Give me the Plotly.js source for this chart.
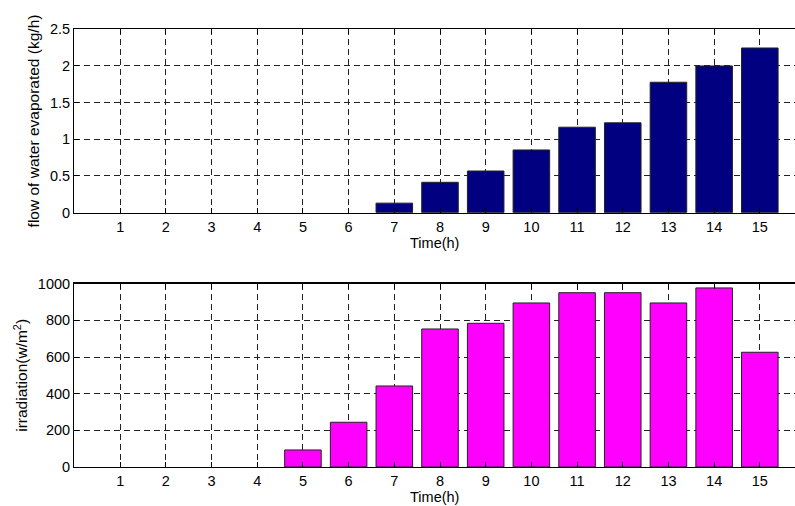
<!DOCTYPE html>
<html>
<head>
<meta charset="utf-8">
<script src="https://cdn.plot.ly/plotly-3.0.1.min.js"></script>
<style>html,body{margin:0;padding:0;background:#fff;}</style>
</head>
<body>
<div id="chart" style="width:795px;height:506px;"></div>
<script>
var hours = [1,2,3,4,5,6,7,8,9,10,11,12,13,14,15];
var waterFlow = [0,0,0,0,0,0,0.13,0.414,0.568,0.855,1.165,1.225,1.778,2.0,2.245];
var irradiation = [0,0,0,0,93,244,442,753,784,895,951,951,895,977,626];
var flowTicks = [0,0.5,1,1.5,2,2.5];
var flowTickText = ["0","0.5","1","1.5","2","2.5"];
var irrTicks = [0,200,400,600,800,1000];
var irrTickText = ["0","200","400","600","800","1000"];

var fnt = {family: "Liberation Sans, Arial, sans-serif", size: 14.5, color: "#000"};
var tfnt = {family: "Liberation Sans, Arial, sans-serif", size: 15.5, color: "#000"};

function edgeWidths(vals) { return vals.map(function (v) { return v === 0 ? 0 : 1; }); }

var traces = [
  {type: "bar", x: hours, y: waterFlow, width: 0.8, xaxis: "x", yaxis: "y",
   marker: {color: "#000080", line: {color: "#222", width: edgeWidths(waterFlow)}}, hoverinfo: "x+y"},
  {type: "bar", x: hours, y: irradiation, width: 0.8, xaxis: "x2", yaxis: "y2",
   marker: {color: "#FF00FF", line: {color: "#222", width: edgeWidths(irradiation)}}, hoverinfo: "x+y"}
];

function xax(anchor, standoff) {
  return {
    domain: [0.0937, 1], range: [0, 15.77], anchor: anchor,
    tickvals: hours, ticktext: hours.map(String),
    ticks: "inside", ticklen: 5, tickcolor: "#000", tickwidth: 1,
    showline: true, linecolor: "#000", linewidth: 1.5, mirror: "ticks",
    showgrid: true, gridcolor: "#222", gridwidth: 1, griddash: "6px,4px",
    zeroline: false, tickfont: fnt,
    title: {text: "Time(h)", font: fnt, standoff: standoff}
  };
}
function yax(anchor, dom, rng, tv, tt, title, standoff) {
  return {
    domain: dom, range: rng, anchor: anchor,
    tickvals: tv, ticktext: tt,
    ticks: "inside", ticklen: 5, tickcolor: "#000", tickwidth: 1,
    showline: true, linecolor: "#000", linewidth: 1.5, mirror: false,
    showgrid: true, gridcolor: "#222", gridwidth: 1, griddash: "6px,4px",
    zeroline: false, tickfont: fnt,
    title: {text: title, font: tfnt, standoff: standoff}
  };
}

var layout = {
  width: 795, height: 506,
  margin: {l: 0, r: 0, t: 0, b: 0},
  paper_bgcolor: "#fff", plot_bgcolor: "#fff",
  showlegend: false, bargap: 0,
  xaxis: xax("y", 0),
  yaxis: yax("x", [0.5797, 0.9421], [0, 2.5], flowTicks, flowTickText, "flow of water evaporated (kg/h)", 6),
  xaxis2: xax("y2", 0),
  yaxis2: yax("x2", [0.0771, 0.4393], [0, 1000], irrTicks, irrTickText, "irradiation(w/m<sup>2</sup>)", 6)
};

Plotly.newPlot("chart", traces, layout, {displayModeBar: false, staticPlot: true});
</script>
</body>
</html>
